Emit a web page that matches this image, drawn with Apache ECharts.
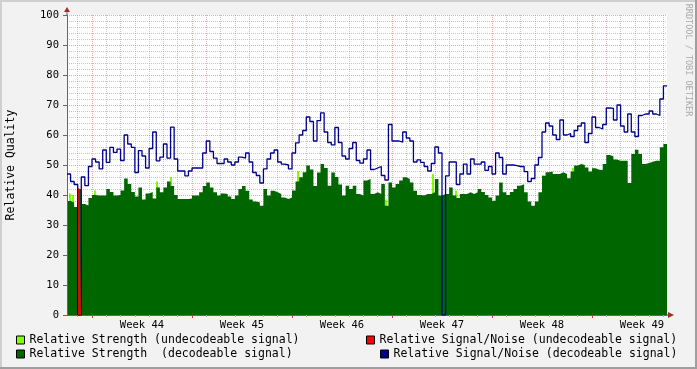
<!DOCTYPE html>
<html>
<head>
<meta charset="utf-8">
<script src="https://cdn.jsdelivr.net/npm/echarts@6/dist/echarts.min.js"></script>
<style>
html,body{margin:0;padding:0;background:#f2f2f2;}
#chart{width:697px;height:369px;}
</style>
</head>
<body>
<div id="chart"></div>
<script>
// ---- data (x unit: days from Monday of week 44; one sample every 6 hours) ----
const startDay = -1.75;
const endDay = 40.25;
const stepDays = 0.25;

const weekLabels = ['Week 44', 'Week 45', 'Week 46', 'Week 47', 'Week 48', 'Week 49'];

// Relative Strength (decodeable signal)
const strengthDecodeable = [
  38, 37.5, 36, 42, 37, 36.5, 39, 40, 39.8, 39.8,
  39.8, 42, 41, 39.8, 40, 41.5, 45.5, 43.7, 41, 39.5,
  42.5, 38.5, 40.5, 41, 38.8, 42.5, 40.9, 42.5, 44.5, 43,
  40, 38.7, 38.7, 38.7, 38.8, 39.8, 39.8, 40.9, 43, 44.2,
  42.5, 40.9, 39.8, 40.5, 40.3, 39.5, 38.7, 39.8, 42, 43,
  41.4, 38.5, 37.8, 37.5, 36.4, 42, 39.8, 41.4, 40.9, 40.3,
  39.2, 38.7, 39.2, 41.5, 44.5, 45.9, 47.6, 49.8, 48.5, 43,
  47.5, 50.3, 49, 43.1, 47.5, 46, 43.5, 39.8, 43.1, 42,
  43.1, 40.3, 39.8, 44.8, 45.3, 40.3, 40.9, 40.3, 43.7, 36.4,
  44.2, 42.5, 43.7, 44.8, 45.9, 45.3, 44.2, 41.4, 40, 39.8,
  40.3, 40.3, 40.9, 45.3, 39.8, 40.3, 40.3, 42.5, 39.8, 39,
  40.3, 40.3, 40.9, 40.3, 40.9, 42, 41, 40, 39.2, 38.1,
  39.8, 44.2, 40.9, 40, 41, 42, 43.1, 43.6, 40.9, 37.8,
  36.4, 37.8, 40.9, 46.4, 47.6, 47.8, 47, 47, 47.6, 47,
  45.6, 47.8, 49.8, 50.3, 50, 49.2, 47.8, 48.9, 48.4, 48.3,
  50.3, 53.3, 52.9, 51.8, 51.4, 51.4, 51.4, 44, 53.7, 55.1,
  53.7, 50.3, 50.7, 51.1, 51.4, 51.4, 55.9, 57
];

// Relative Signal/Noise (decodeable signal)
const snDecodeable = [
  47, 44.5, 43.5, 0, 46, 43.1, 49.5, 52, 51, 48.7,
  55, 50.9, 55.9, 54.2, 55.3, 51.5, 60, 57, 55.9, 47.5,
  54.8, 53, 49, 55.5, 61, 51.4, 52.6, 57, 52.3, 62.6,
  52, 48, 48, 46.4, 48, 49, 49, 49, 54, 58,
  54.5, 52.3, 50.5, 50.5, 52, 51, 50, 51, 52.6, 52.3,
  54, 51, 47.5, 46.5, 44, 48.7, 52, 54, 55, 51,
  50.3, 50, 48.7, 54, 57.4, 60, 61.5, 66, 64.5, 58,
  64.8, 67.4, 61, 57.5, 56.7, 62.5, 57.5, 53, 52, 55.5,
  57.5, 51.5, 50.6, 52, 55, 48.5, 49, 49.5, 46.5, 45,
  63.5, 58, 58, 57.6, 61, 59, 58, 51, 51.7, 50.9,
  49.5, 48, 50.5, 56, 54, 0, 46.4, 51, 51, 43.5,
  47, 50.3, 47, 52, 50.3, 50.3, 51, 48.2, 49.5, 47,
  54, 52.5, 47, 50, 50, 49.8, 49.5, 49.5, 47.8, 44.5,
  45.5, 50, 52.5, 61, 64, 63, 60, 58.5, 65, 60,
  60.5, 59.5, 61.5, 63, 64, 57.5, 60.5, 66, 62.5, 62,
  63.5, 69, 68.9, 65, 70, 63, 61, 67, 61, 59.5,
  66.5, 67, 67, 68, 67, 66.5, 72, 76.4
];

// Relative Strength (undecodeable signal): [day, value], only where it shows
const strengthUndecodeable = [
  [-1.54, 40.5], [-1.33, 40], [0.21, 41.5], [4.55, 44.5], [5.53, 46],
  [14.42, 48], [20.58, 38.5], [23.87, 47], [25.48, 41.5], [31.57, 46.5], [33.67, 49]
];

// Relative Signal/Noise (undecodeable signal): [day, value]
const snUndecodeable = [[-0.93, 0], [-0.93, 42.3], [-0.82, 42.3], [-0.82, 0]];

// ---- helpers ----
function toSteps(values) {
  const out = values.map((v, i) => [startDay + i * stepDays, v]);
  out.push([endDay, values[values.length - 1]]);
  return out;
}
const dayTicks = [];
for (let d = -1; d <= 40; d++) if (d % 7 !== 0) dayTicks.push(d);
const weekTicks = [0, 7, 14, 21, 28, 35];
const weekMids = weekLabels.map((_, i) => 3.5 + 7 * i);
const minorY = [];
for (let v = 2; v < 100; v += 2) if (v % 10 !== 0) minorY.push(v);

const FONT = 'DejaVu Sans Mono';
const gridMinor = 'rgba(143,143,143,0.5)';
const gridMajor = 'rgba(222,80,80,0.5)';

const names = [
  'Relative Strength (undecodeable signal)',
  'Relative Strength  (decodeable signal)',
  'Relative Signal/Noise (undecodeable signal)',
  'Relative Signal/Noise (decodeable signal)'
];
const colors = ['#80ff00', '#006600', '#ff0000', '#000090'];

function legendAt(name, left, top) {
  return {
    data: [name], left: left, top: top, padding: 0, itemWidth: 8, itemHeight: 8,
    icon: 'rect', selectedMode: false,
    itemStyle: { borderColor: '#000', borderWidth: 1 },
    textStyle: { fontFamily: FONT, fontSize: 11.5, color: '#000' }
  };
}

const chart = echarts.init(document.getElementById('chart'), null, { renderer: 'canvas' });
chart.setOption({
  animation: false,
  backgroundColor: '#f2f2f2',
  grid: { left: 67, top: 15, width: 600, height: 300, show: true, backgroundColor: '#ffffff', borderWidth: 0 },
  xAxis: [
    {
      type: 'value', min: startDay, max: endDay, position: 'bottom', z: 3,
      axisLine: { show: true, onZero: false, lineStyle: { color: '#666', width: 1 } },
      axisTick: { show: true, customValues: dayTicks, length: 2, lineStyle: { color: '#aaa' } },
      axisLabel: {
        customValues: weekMids, margin: 5, fontFamily: FONT, fontSize: 10.5, color: '#000',
        formatter: v => weekLabels[Math.round((v - 3.5) / 7)]
      },
      splitLine: { show: true, lineStyle: { color: gridMinor, type: [1, 1], width: 1 } }
    },
    {
      type: 'value', min: startDay, max: endDay, position: 'bottom', z: 3,
      axisLine: { show: false, onZero: false },
      axisTick: { show: true, customValues: weekTicks, length: 3, lineStyle: { color: '#d04040' } },
      axisLabel: { show: false },
      splitLine: { show: true, lineStyle: { color: gridMajor, type: [1, 1], width: 1 } }
    }
  ],
  yAxis: [
    {
      type: 'value', min: 0, max: 100, interval: 2, z: 3, position: 'left',
      axisLine: { show: false, onZero: false }, axisLabel: { show: false },
      axisTick: { show: false, customValues: minorY },
      splitLine: { show: true, lineStyle: { color: gridMinor, type: [1, 1], width: 1 } }
    },
    {
      type: 'value', min: 0, max: 100, interval: 10, position: 'left', z: 3,
      axisLine: { show: true, onZero: false, lineStyle: { color: '#666', width: 1 } },
      axisTick: { show: true, length: 4, lineStyle: { color: '#666' } },
      axisLabel: { margin: 8, fontFamily: FONT, fontSize: 10.5, color: '#000' },
      splitLine: { show: true, lineStyle: { color: gridMajor, type: [1, 1], width: 1 } }
    }
  ],
  legend: [
    legendAt(names[0], 16, 334),
    legendAt(names[1], 16, 348),
    legendAt(names[2], 366, 334),
    legendAt(names[3], 380, 348)
  ],
  series: [
    {
      name: names[0], type: 'bar', xAxisIndex: 0, yAxisIndex: 1, barWidth: 2,
      data: strengthUndecodeable, itemStyle: { color: colors[0] }
    },
    {
      name: names[1], type: 'line', step: 'end', xAxisIndex: 0, yAxisIndex: 1,
      data: toSteps(strengthDecodeable), symbol: 'none',
      lineStyle: { width: 0, color: colors[1] }, itemStyle: { color: colors[1] },
      areaStyle: { color: colors[1], opacity: 1 }
    },
    {
      name: names[3], type: 'line', step: 'end', xAxisIndex: 0, yAxisIndex: 1,
      data: toSteps(snDecodeable), symbol: 'none',
      lineStyle: { width: 1.3, color: colors[3] }, itemStyle: { color: colors[3] }
    },
    {
      name: names[2], type: 'line', xAxisIndex: 0, yAxisIndex: 1,
      data: snUndecodeable, symbol: 'none',
      lineStyle: { width: 1.1, color: colors[2] }, itemStyle: { color: colors[2] }
    }
  ],
  graphic: [
    { type: 'rect', shape: { x: 0, y: 0, width: 697, height: 2 }, style: { fill: '#cfcfcf' }, silent: true },
    { type: 'rect', shape: { x: 0, y: 0, width: 2, height: 369 }, style: { fill: '#cfcfcf' }, silent: true },
    { type: 'rect', shape: { x: 695, y: 0, width: 2, height: 369 }, style: { fill: '#9e9e9e' }, silent: true },
    { type: 'rect', shape: { x: 0, y: 367, width: 697, height: 2 }, style: { fill: '#9e9e9e' }, silent: true },
    { type: 'line', shape: { x1: 67, y1: 15, x2: 67, y2: 11 }, style: { stroke: '#666', lineWidth: 1 }, silent: true },
    { type: 'polygon', shape: { points: [[64, 12], [70, 12], [67, 7]] }, style: { fill: '#a52a2a' }, silent: true },
    { type: 'line', shape: { x1: 667, y1: 315, x2: 669, y2: 315 }, style: { stroke: '#666', lineWidth: 1 }, silent: true },
    { type: 'polygon', shape: { points: [[668, 312], [668, 318], [674, 315]] }, style: { fill: '#a52a2a' }, silent: true },
    {
      type: 'text', x: 11, y: 165, rotation: Math.PI / 2, silent: true,
      style: { text: 'Relative Quality', fontFamily: FONT, fontSize: 11.5, fill: '#000', align: 'center', verticalAlign: 'middle' }
    },
    {
      type: 'text', x: 688, y: 60, rotation: -Math.PI / 2, silent: true,
      style: { text: 'RRDTOOL / TOBI OETIKER', fontFamily: FONT, fontSize: 8.5, fill: '#aaaaaa', align: 'center', verticalAlign: 'middle' }
    }
  ]
});
</script>
</body>
</html>
